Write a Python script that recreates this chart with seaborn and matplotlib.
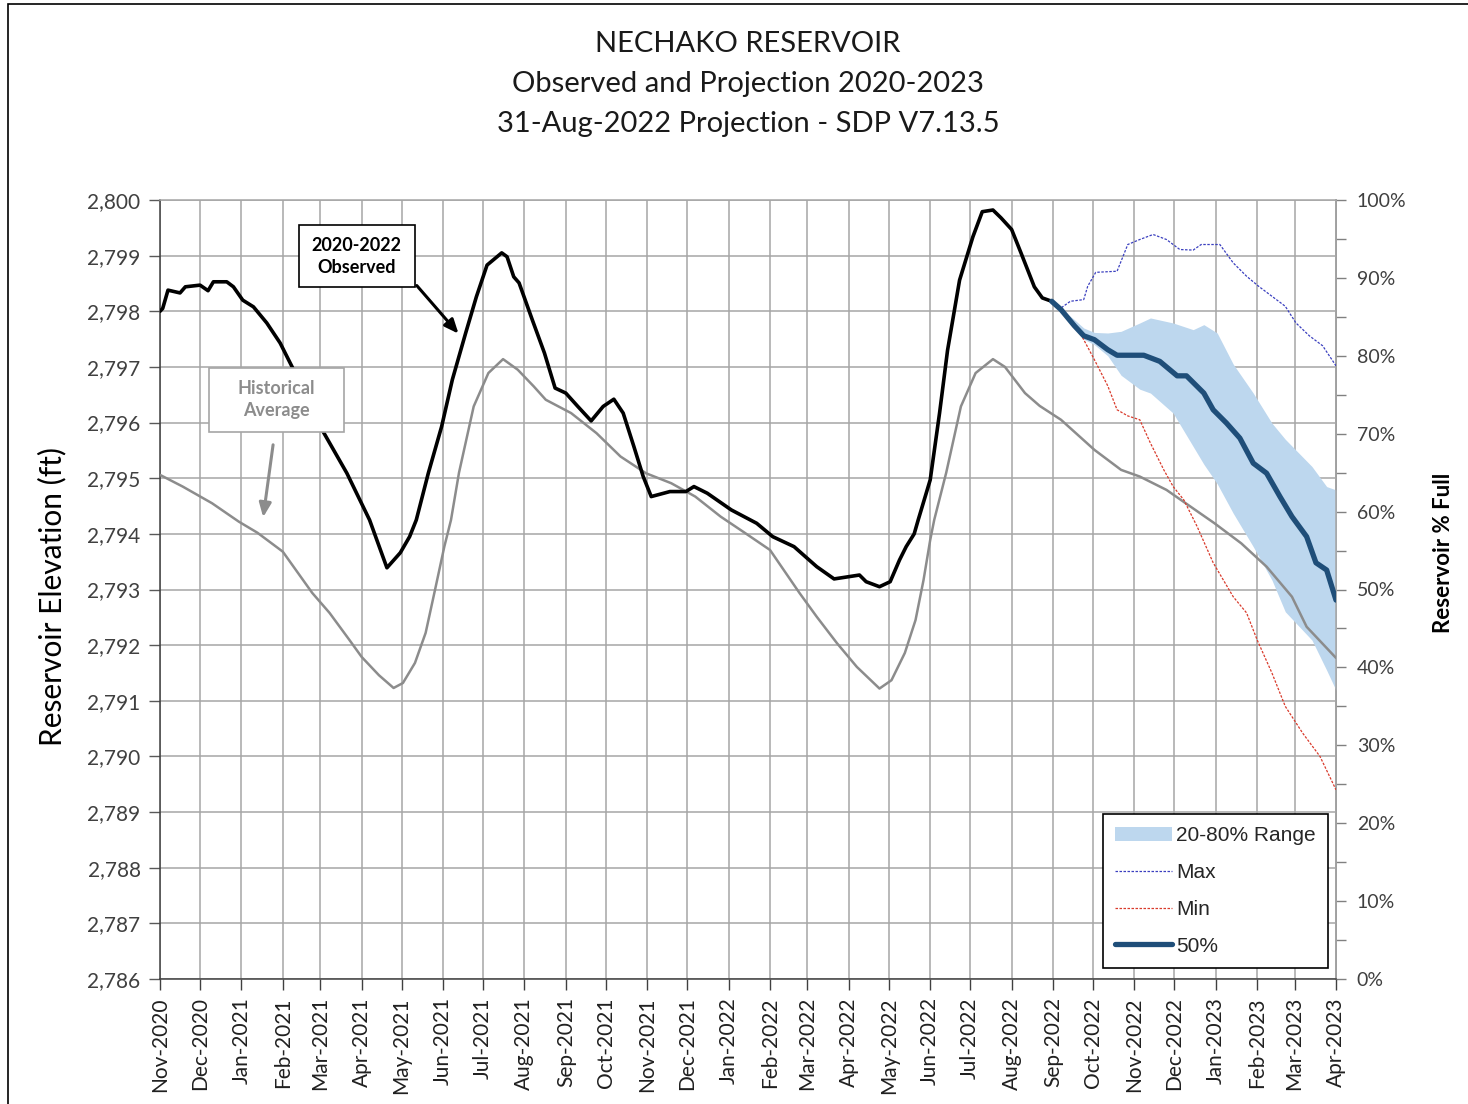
import pandas as pd
import seaborn as sns
import matplotlib.pyplot as plt
import matplotlib.dates as mdates
from matplotlib.patches import Patch, Rectangle
from matplotlib.lines import Line2D
from matplotlib.ticker import FuncFormatter, MultipleLocator

# Observed reservoir elevation 2020-2022 (ft)
obs_dates = ["2020-11-01", "2020-11-03", "2020-11-07", "2020-11-16", "2020-11-20", "2020-12-01",
             "2020-12-07", "2020-12-11", "2020-12-21", "2020-12-26", "2021-01-02", "2021-01-10",
             "2021-01-20", "2021-01-30", "2021-02-08", "2021-03-01", "2021-03-21", "2021-04-07",
             "2021-04-20", "2021-04-30", "2021-05-07", "2021-05-12", "2021-05-21", "2021-05-31",
             "2021-06-08", "2021-06-18", "2021-06-26", "2021-07-04", "2021-07-15", "2021-07-19",
             "2021-07-24", "2021-07-28", "2021-08-07", "2021-08-16", "2021-08-24", "2021-09-01",
             "2021-09-10", "2021-09-20", "2021-09-29", "2021-10-07", "2021-10-14", "2021-10-22",
             "2021-10-29", "2021-11-04", "2021-11-18", "2021-11-30", "2021-12-06", "2021-12-16",
             "2022-01-03", "2022-01-22", "2022-02-03", "2022-02-19", "2022-03-08", "2022-03-21",
             "2022-04-09", "2022-04-14", "2022-04-24", "2022-05-02", "2022-05-09", "2022-05-14",
             "2022-05-20", "2022-05-23", "2022-06-01", "2022-06-08", "2022-06-14", "2022-06-23",
             "2022-07-03", "2022-07-10", "2022-07-18", "2022-07-24", "2022-08-01", "2022-08-08",
             "2022-08-18", "2022-08-24", "2022-08-31"]
obs_ft = [2798.00, 2798.05, 2798.38, 2798.33, 2798.44, 2798.47,
          2798.37, 2798.53, 2798.53, 2798.44, 2798.20, 2798.08,
          2797.79, 2797.43, 2797.00, 2795.93, 2795.09, 2794.25,
          2793.39, 2793.66, 2793.95, 2794.25, 2795.09, 2795.93,
          2796.77, 2797.61, 2798.26, 2798.83, 2799.05, 2798.98,
          2798.62, 2798.51, 2797.84, 2797.25, 2796.62, 2796.53,
          2796.29, 2796.03, 2796.29, 2796.42, 2796.17, 2795.57,
          2795.03, 2794.67, 2794.76, 2794.76, 2794.85, 2794.73,
          2794.43, 2794.19, 2793.95, 2793.77, 2793.41, 2793.19,
          2793.26, 2793.14, 2793.05, 2793.14, 2793.53, 2793.77,
          2794.00, 2794.25, 2794.97, 2796.17, 2797.30, 2798.56,
          2799.34, 2799.79, 2799.82, 2799.68, 2799.47, 2799.05,
          2798.44, 2798.24, 2798.18]

# Historical average (ft)
hist_dates = ["2020-11-01", "2020-11-18", "2020-12-10", "2020-12-30", "2021-01-13", "2021-02-01",
              "2021-02-23", "2021-03-08", "2021-03-23", "2021-04-01", "2021-04-14", "2021-04-25",
              "2021-05-02", "2021-05-11", "2021-05-19", "2021-05-26", "2021-06-02", "2021-06-07",
              "2021-06-13", "2021-06-24", "2021-07-05", "2021-07-16", "2021-07-27", "2021-08-08",
              "2021-08-17", "2021-09-05", "2021-09-24", "2021-10-12", "2021-10-31", "2021-11-19",
              "2021-12-07", "2021-12-26", "2022-01-13", "2022-02-01", "2022-02-23", "2022-03-08",
              "2022-03-23", "2022-04-07", "2022-04-24", "2022-05-03", "2022-05-13", "2022-05-21",
              "2022-05-27", "2022-06-01", "2022-06-04", "2022-06-13", "2022-06-24", "2022-07-05",
              "2022-07-18", "2022-07-27", "2022-08-11", "2022-08-22", "2022-09-07", "2022-10-02",
              "2022-10-22", "2022-11-05", "2022-11-25", "2022-12-13", "2022-12-31", "2023-01-20",
              "2023-02-08", "2023-02-27", "2023-03-10", "2023-04-01"]
hist_ft = [2795.06, 2794.85, 2794.55, 2794.22, 2794.02, 2793.68,
           2792.94, 2792.58, 2792.09, 2791.79, 2791.46, 2791.23,
           2791.32, 2791.68, 2792.22, 2792.99, 2793.77, 2794.25,
           2795.10, 2796.29, 2796.89, 2797.14, 2796.95, 2796.65,
           2796.41, 2796.17, 2795.81, 2795.39, 2795.09, 2794.91,
           2794.67, 2794.31, 2794.02, 2793.71, 2792.94, 2792.51,
           2792.04, 2791.61, 2791.22, 2791.37, 2791.86, 2792.45,
           2793.17, 2793.89, 2794.25, 2795.10, 2796.29, 2796.89,
           2797.14, 2797.00, 2796.53, 2796.30, 2796.05, 2795.51,
           2795.15, 2795.03, 2794.79, 2794.49, 2794.19, 2793.83,
           2793.41, 2792.87, 2792.33, 2791.77]

# Projection from 31-Aug-2022
p50_dates = ["2022-08-31", "2022-09-07", "2022-09-17", "2022-09-24", "2022-10-02", "2022-10-12",
             "2022-10-19", "2022-11-08", "2022-11-20", "2022-12-03", "2022-12-10", "2022-12-23",
             "2022-12-30", "2023-01-09", "2023-01-19", "2023-01-29", "2023-02-08", "2023-02-18",
             "2023-02-27", "2023-03-10", "2023-03-17", "2023-03-25", "2023-04-01"]
p50_ft = [2798.18, 2798.03, 2797.74, 2797.56, 2797.49, 2797.31,
          2797.21, 2797.21, 2797.10, 2796.84, 2796.84, 2796.53,
          2796.23, 2795.99, 2795.72, 2795.27, 2795.09, 2794.67,
          2794.31, 2793.95, 2793.48, 2793.35, 2792.81]

max_dates = ["2022-08-31", "2022-09-07", "2022-09-14", "2022-09-24", "2022-09-27", "2022-10-03",
             "2022-10-19", "2022-10-27", "2022-11-05", "2022-11-15", "2022-11-25", "2022-12-05",
             "2022-12-15", "2022-12-21", "2023-01-04", "2023-01-14", "2023-01-24", "2023-02-02",
             "2023-02-12", "2023-02-22", "2023-03-02", "2023-03-12", "2023-03-22", "2023-04-01"]
max_ft = [2798.18, 2798.06, 2798.18, 2798.21, 2798.45, 2798.70,
          2798.72, 2799.20, 2799.29, 2799.38, 2799.29, 2799.11,
          2799.10, 2799.20, 2799.20, 2798.87, 2798.63, 2798.45,
          2798.27, 2798.09, 2797.79, 2797.56, 2797.38, 2797.02]

min_dates = ["2022-08-31", "2022-09-17", "2022-09-24", "2022-10-02", "2022-10-12", "2022-10-19",
             "2022-10-27", "2022-11-05", "2022-11-13", "2022-11-23", "2022-11-30", "2022-12-08",
             "2022-12-18", "2022-12-30", "2023-01-14", "2023-01-24", "2023-02-01", "2023-02-12",
             "2023-02-22", "2023-03-07", "2023-03-20", "2023-04-01"]
min_ft = [2798.18, 2797.79, 2797.49, 2797.13, 2796.66, 2796.23,
          2796.12, 2796.05, 2795.63, 2795.15, 2794.85, 2794.61,
          2794.13, 2793.48, 2792.87, 2792.58, 2792.09, 2791.50,
          2790.90, 2790.42, 2790.00, 2789.40]

band_dates = ["2022-08-31", "2022-09-17", "2022-09-24", "2022-10-02", "2022-10-12", "2022-10-22",
              "2022-11-05", "2022-11-13", "2022-11-30", "2022-12-15", "2022-12-23", "2023-01-02",
              "2023-01-14", "2023-01-29", "2023-02-12", "2023-02-22", "2023-03-14", "2023-03-25",
              "2023-04-01"]
band_hi = [2798.18, 2797.85, 2797.70, 2797.62, 2797.61, 2797.64,
           2797.79, 2797.88, 2797.79, 2797.67, 2797.76, 2797.61,
           2797.05, 2796.53, 2795.99, 2795.70, 2795.21, 2794.85,
           2794.79]
band_lo = [2798.18, 2797.70, 2797.50, 2797.40, 2797.20, 2796.85,
           2796.60, 2796.53, 2796.17, 2795.57, 2795.25, 2794.90,
           2794.37, 2793.77, 2793.17, 2792.60, 2792.09, 2791.55,
           2791.19]

FT_EMPTY, FT_FULL = 2786, 2800

sns.set_theme(style="white")
plt.rcParams['font.family'] = ['Lato', 'DejaVu Sans']

W, H = 1468, 1104
fig = plt.figure(figsize=(W / 100, H / 100), dpi=100)
ax = fig.add_axes([160 / W, 1 - 979 / H, (1336 - 160) / W, (979 - 200) / H])

# 20-80% band and lines
ax.fill_between(pd.to_datetime(band_dates), band_lo, band_hi, color="#bdd7ee", lw=0, zorder=2)
sns.lineplot(x=pd.to_datetime(hist_dates), y=hist_ft, ax=ax, color="#8c8c8c", lw=1.8, zorder=3)
sns.lineplot(x=pd.to_datetime(obs_dates), y=obs_ft, ax=ax, color="black", lw=2.6, zorder=4)
sns.lineplot(x=pd.to_datetime(max_dates), y=max_ft, ax=ax, color="#3a3fbf", lw=0.9,
             linestyle=(0, (2, 1.2)), zorder=5)
sns.lineplot(x=pd.to_datetime(min_dates), y=min_ft, ax=ax, color="#d93a2b", lw=0.9,
             linestyle=(0, (2, 1.2)), zorder=5)
sns.lineplot(x=pd.to_datetime(p50_dates), y=p50_ft, ax=ax, color="#1f4e79", lw=3.8, zorder=6)

# axes
ax.set_xlim(pd.Timestamp("2020-11-01"), pd.Timestamp("2023-04-01"))
ax.set_ylim(FT_EMPTY, FT_FULL)
ax.xaxis.set_major_locator(mdates.MonthLocator())
ax.xaxis.set_major_formatter(mdates.DateFormatter("%b-%Y"))
ax.yaxis.set_major_locator(MultipleLocator(1))
ax.yaxis.set_major_formatter(FuncFormatter(lambda v, p: f"{v:,.0f}"))
ax.set_xlabel("")
ax.set_ylabel("")
ax.grid(True, color="#a6a6a6", lw=1.1, zorder=0)
ax.set_axisbelow(True)

for s in ["left", "bottom"]:
    ax.spines[s].set_color("#404040")
    ax.spines[s].set_linewidth(1.1)
for s in ["top", "right"]:
    ax.spines[s].set_color("#a6a6a6")
    ax.spines[s].set_linewidth(1.1)

ax.tick_params(axis="y", which="major", direction="out", length=8, width=1, color="#595959",
               labelsize=15, labelcolor="#404040", pad=6, left=True)
ax.tick_params(axis="x", which="major", direction="out", length=8, width=1, color="#404040",
               labelsize=15, labelcolor="#202020", pad=5, bottom=True)
plt.setp(ax.get_xticklabels(), rotation=90)

# right axis in % full
sec = ax.secondary_yaxis(
    "right",
    functions=(lambda y: (y - FT_EMPTY) / (FT_FULL - FT_EMPTY) * 100,
               lambda p: FT_EMPTY + p * (FT_FULL - FT_EMPTY) / 100))
sec.yaxis.set_major_locator(MultipleLocator(10))
sec.yaxis.set_minor_locator(MultipleLocator(5))
sec.yaxis.set_major_formatter(FuncFormatter(lambda v, p: f"{v:.0f}%"))
sec.tick_params(which="both", direction="out", length=7, width=1, color="#808080",
                labelsize=14, labelcolor="#404040", pad=8)
sec.spines["right"].set_color("#808080")

# titles and labels
title_lines = ["NECHAKO RESERVOIR", "Observed and Projection 2020-2023",
               "31-Aug-2022 Projection - SDP V7.13.5"]
for line, base in zip(title_lines, [52, 92, 132]):
    fig.text(748 / W, 1 - base / H, line, ha="center", va="baseline", fontsize=21, color="#1a1a1a")
fig.text(52 / W, 1 - 596 / H, "Reservoir Elevation (ft)", rotation=90, ha="center", va="center",
         fontsize=21.5, color="black")
fig.text(1443 / W, 1 - 553 / H, "Reservoir % Full", rotation=90, ha="center", va="center",
         fontsize=16, fontweight="bold", color="black")

# annotation boxes
d = mdates.date2num
ax.add_patch(Rectangle((d(pd.Timestamp("2021-02-13")), 2798.44),
                       d(pd.Timestamp("2021-05-11")) - d(pd.Timestamp("2021-02-13")), 1.11,
                       facecolor="white", edgecolor="black", lw=1.2, zorder=7))
ax.text(pd.Timestamp("2021-03-28"), 2798.99, "2020-2022\nObserved", ha="center", va="center",
        fontsize=13, fontweight="bold", color="black", linespacing=1.35, zorder=8)
ax.annotate("", xy=(pd.Timestamp("2021-06-14"), 2797.56), xytext=(pd.Timestamp("2021-05-11"), 2798.50),
            arrowprops=dict(arrowstyle="-|>,head_length=0.7,head_width=0.3", color="black", lw=2.2),
            zorder=8)

ax.add_patch(Rectangle((d(pd.Timestamp("2020-12-08")), 2795.83),
                       d(pd.Timestamp("2021-03-19")) - d(pd.Timestamp("2020-12-08")), 1.15,
                       facecolor="white", edgecolor="#a6a6a6", lw=1.2, zorder=7))
ax.text(pd.Timestamp("2021-01-27"), 2796.41, "Historical\nAverage", ha="center", va="center",
        fontsize=13, fontweight="bold", color="#8c8c8c", linespacing=1.35, zorder=8)
ax.annotate("", xy=(pd.Timestamp("2021-01-17"), 2794.25), xytext=(pd.Timestamp("2021-01-25"), 2795.65),
            arrowprops=dict(arrowstyle="-|>,head_length=0.7,head_width=0.3", color="#8c8c8c", lw=2.2),
            zorder=8)

# legend
handles = [
    Patch(facecolor="#bdd7ee", edgecolor="none", label="20-80% Range"),
    Line2D([], [], color="#3a3fbf", lw=0.9, linestyle=(0, (2, 1.2)), label="Max"),
    Line2D([], [], color="#d93a2b", lw=0.9, linestyle=(0, (2, 1.2)), label="Min"),
    Line2D([], [], color="#1f4e79", lw=3.8, label="50%"),
]
leg = ax.legend(handles=handles, loc="lower right", bbox_to_anchor=(0.9932, 0.0141),
                prop={"family": "Liberation Sans", "size": 15}, frameon=True, fancybox=False,
                edgecolor="black", framealpha=1, handlelength=2.7, handletextpad=0.2,
                labelspacing=0.85, borderpad=0.6, borderaxespad=0)
leg.get_frame().set_linewidth(1.2)
leg.set_zorder(10)

# outer border of the picture
fig.add_artist(Rectangle((8 / W, -0.1), 1.2, 1.1 - 4 / H, transform=fig.transFigure,
                         fill=False, edgecolor="black", lw=1.2))

fig.savefig("out.png", dpi=100)
